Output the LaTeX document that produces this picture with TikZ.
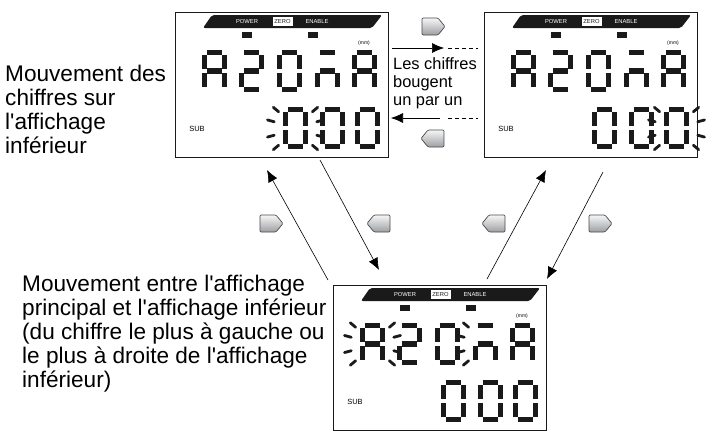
\documentclass[tikz,border=0pt]{standalone}
\usepackage{fontspec}
\setmainfont{Liberation Sans}
\usetikzlibrary{arrows.meta}
\definecolor{lcd}{HTML}{1A1A1A}
\definecolor{btn}{HTML}{C4C6CA}
\definecolor{btnd}{HTML}{4A4A4A}
\newcommand\ap{\textquotesingle}
\tikzset{
  seg/.style={line width=5.4pt,line cap=butt,lcd},
  rayst/.style={line width=2.8pt,line cap=round,lcd},
  frame/.style={draw=lcd,line width=1.3pt,fill=white},
  conn/.style={line width=0.6pt,-{Latex[length=12pt,width=10pt]}},
  btnst/.style={draw=btnd,line width=0.7pt,top color=white!85!btn,bottom color=btn!80!black,rounded corners=1.2pt},
  bigtxt/.style={font=\fontsize{22.6}{24}\selectfont,align=left,inner sep=0pt,anchor=north west},
  lab/.style={font=\fontsize{5.8}{6}\selectfont,inner sep=0pt}
}
\def\sga{\draw[seg] (4.6,2.7) -- (20.4,2.7);}
\def\sgb{\draw[seg] (22.3,5.2) -- (22.3,18.8);}
\def\sgc{\draw[seg] (22.3,23.2) -- (22.3,36.8);}
\def\sgd{\draw[seg] (4.6,39.3) -- (20.4,39.3);}
\def\sge{\draw[seg] (2.7,23.2) -- (2.7,36.8);}
\def\sgf{\draw[seg] (2.7,5.2) -- (2.7,18.8);}
\def\sgg{\draw[seg] (4.6,21) -- (20.4,21);}
\newcommand\sev[3]{\begin{scope}[shift={(#1,#2)}]\foreach \s in {#3}{\csname sg\s\endcsname}\end{scope}}
\newcommand\rayset[3]{\foreach \t in {#3}{\draw[rayst] ({#1+22*cos(\t)},{#2+26*sin(\t)}) -- ({#1+29*cos(\t)},{#2+33*sin(\t)});}}
\newcommand\lcdpanel[3]{% ox oy name
 \begin{scope}[shift={(#1,#2)}]
  \node[frame,minimum width=213pt,minimum height=145pt,anchor=north west,inner sep=0pt] (#3) at (0,0) {};
  \fill[lcd,rounded corners=2pt] (37,3) -- (207,3) -- (197,16) -- (28,16) -- cycle;
  \node[lab,text=white] (#3p) at (72,9.5) {POWER};
  \fill[white] (97.5,5.2) rectangle (117.5,13.8);
  \node[lab,text=lcd] (#3z) at (107.5,9.5) {ZERO};
  \node[lab,text=white] (#3e) at (142,9.5) {ENABLE};
  \fill[lcd] (67,20) rectangle (77,25.5);
  \fill[lcd] (133,20) rectangle (143,25.5);
  \node[lab,font=\fontsize{5}{6}\selectfont] (#3m) at (189,31) {(mm)};
  \node[lab,font=\fontsize{7.5}{8}\selectfont] (#3s) at (22,117) {SUB};
  \sev{27}{38}{a,b,c,e,f,g}
  \sev{64}{38}{a,b,g,e,d}
  \sev{102}{38}{a,b,c,d,e,f}
  \sev{140}{38}{a,g,e,c}
  \sev{177}{38}{a,b,c,e,f,g}
  \sev{108}{95}{a,b,c,d,e,f}
  \sev{145}{95}{a,b,c,d,e,f}
  \sev{180}{95}{a,b,c,d,e,f}
 \end{scope}}
\newcommand\btnR[3]{\draw[btnst] (#1,#2) -- ++(16,0) -- ++(7,8.5) -- ++(-7,8.5) -- ++(-16,0) -- cycle; \node[inner sep=0pt] (#3) at (#1+11,#2+8.5) {};}
\newcommand\btnL[3]{\draw[btnst] (#1+23,#2) -- ++(-16,0) -- ++(-7,8.5) -- ++(7,8.5) -- ++(16,0) -- cycle; \node[inner sep=0pt] (#3) at (#1+12,#2+8.5) {};}
\begin{document}
\begin{tikzpicture}[x=1pt,y=-1pt]
\useasboundingbox (0,0) rectangle (706,434);
\lcdpanel{175}{12}{tl}
\begin{scope}[shift={(175,12)}]\rayset{120.5}{116.5}{140,165,195,220,40,15,-15,-40}\end{scope}
\lcdpanel{484}{12}{tr}
\begin{scope}[shift={(484,12)}]\rayset{192.5}{116.5}{140,165,195,220,40,15,-15,-40}\end{scope}
\lcdpanel{333}{285}{bt}
\begin{scope}[shift={(333,285)}]\rayset{39.5}{59}{140,165,195,220,40,15,-15,-40}\rayset{152.5}{59}{140,165,195,220}\end{scope}
% texts
\node[bigtxt] (t1) at (5,65) {Mouvement des\\chiffres sur\\l\ap affichage\\inférieur};
\node[bigtxt] (t2) at (22,275) {Mouvement entre l\ap affichage\\principal et l\ap affichage inférieur\\(du chiffre le plus à gauche ou\\le plus à droite de l\ap affichage\\inférieur)};
\node[bigtxt,font=\fontsize{16.4}{18}\selectfont] (t3) at (393,57) {Les chiffres\\bougent\\un par un};
% horizontal arrows
\coordinate (h1a) at (392,48); \coordinate (h1b) at (444,48); \coordinate (h1c) at (448,48); \coordinate (h1d) at (478,48);
\draw[conn] (h1a) -- (h1b); \draw[line width=0.6pt,dashed,dash pattern=on 4pt off 3pt] (h1c) -- (h1d);
\coordinate (h2a) at (440,118); \coordinate (h2b) at (391,118); \coordinate (h2c) at (448,118); \coordinate (h2d) at (478,118);
\draw[conn] (h2a) -- (h2b); \draw[line width=0.6pt,dashed,dash pattern=on 4pt off 3pt] (h2c) -- (h2d);
% diagonal arrows
\coordinate (d1a) at (328,280); \coordinate (d1b) at (267,170);
\coordinate (d2a) at (320,160); \coordinate (d2b) at (379,270);
\coordinate (d3a) at (487,279); \coordinate (d3b) at (546,170);
\coordinate (d4a) at (603,172); \coordinate (d4b) at (547,279);
\draw[conn] (d1a) -- (d1b); \draw[conn] (d2a) -- (d2b);
\draw[conn] (d3a) -- (d3b); \draw[conn] (d4a) -- (d4b);
% buttons
\btnR{422}{18}{b1}
\btnL{421}{130}{b2}
\btnR{260}{215}{b3}
\btnL{367}{215}{b4}
\btnL{482}{215}{b5}
\btnR{589}{215}{b6}
\end{tikzpicture}
\end{document}
